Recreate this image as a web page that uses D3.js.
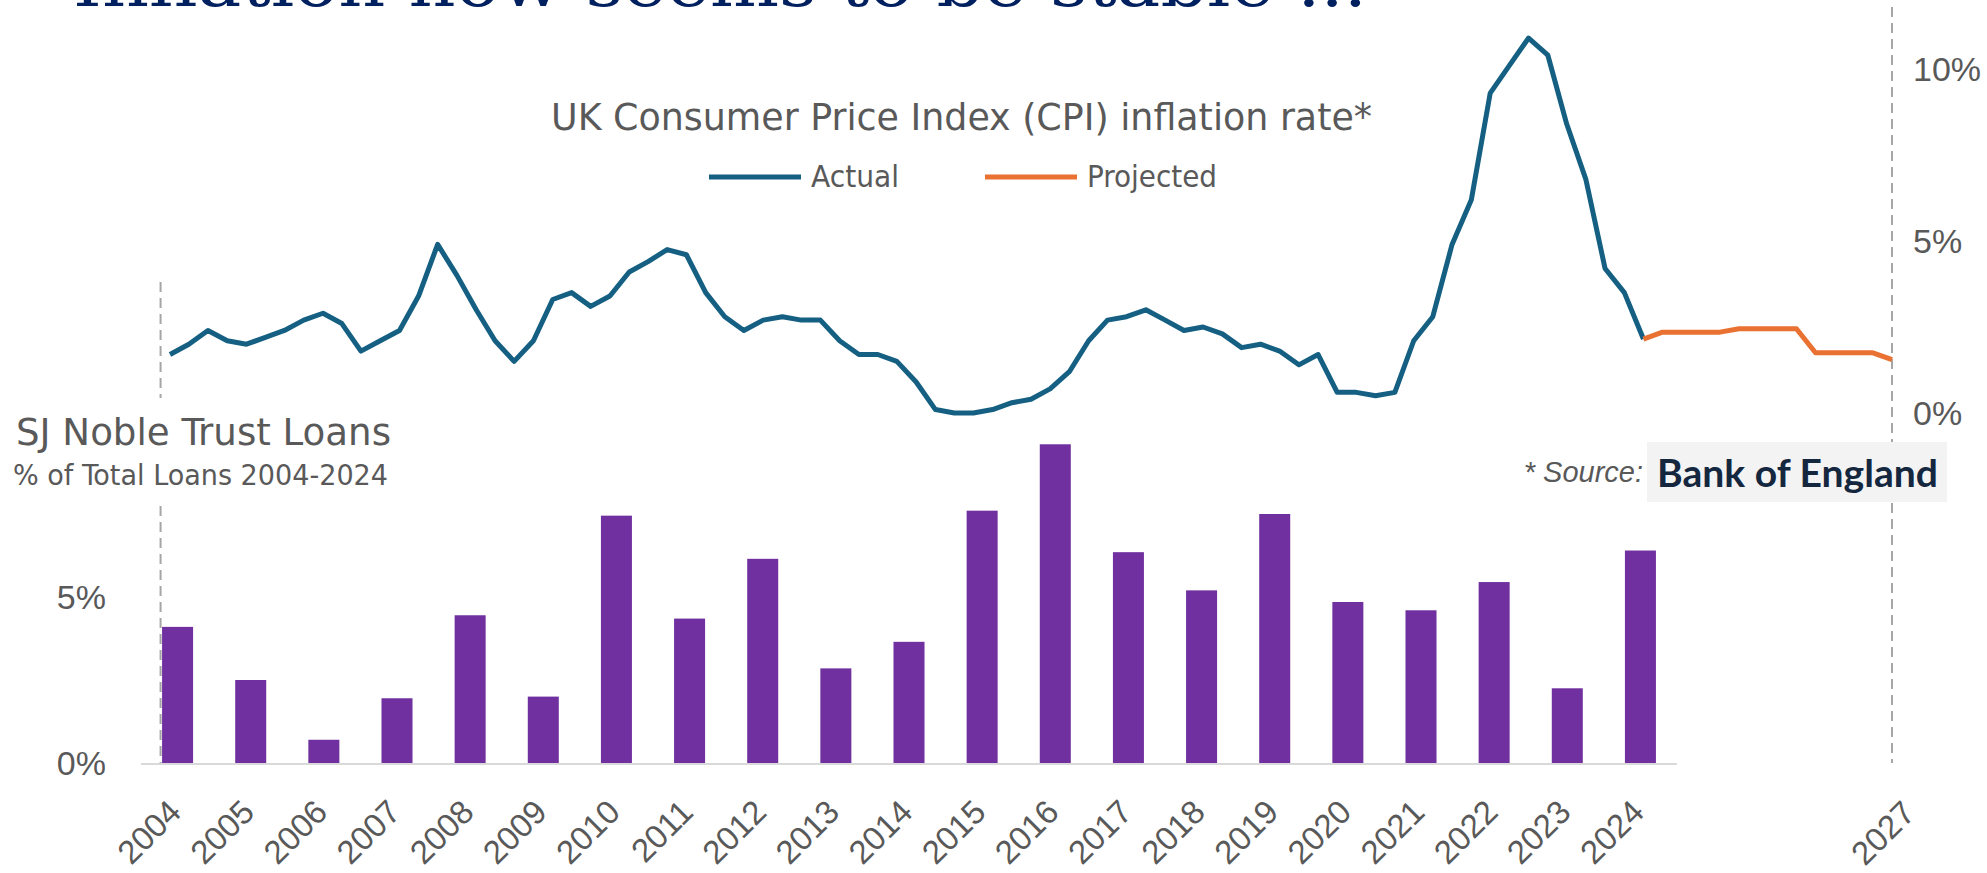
<!DOCTYPE html>
<html>
<head>
<meta charset="utf-8">
<script src="https://cdn.jsdelivr.net/npm/d3@7"></script>
<style>
 body{margin:0;background:#fff;}
 svg{display:block;}
</style>
</head>
<body>
<div id="chart"></div>
<script>
// loans per year (% of total loans 2004-2024)
const loanYears = ['2004','2005','2006','2007','2008','2009','2010','2011','2012','2013','2014',
                   '2015','2016','2017','2018','2019','2020','2021','2022','2023','2024'];
const loanShare = [4.1,2.5,0.7,1.95,4.45,2.0,7.45,4.35,6.15,2.85,3.65,
                   7.6,9.6,6.35,5.2,7.5,4.85,4.6,5.45,2.25,6.4];

// UK CPI, quarterly, starting 2005 Q1
const cpiStartYear = 2005;
const cpiActual = [1.7,2.0,2.4,2.1, 2.0,2.2,2.4,2.7, 2.9,2.6,1.8,2.1, 2.4,3.4,4.9,4.0,
                   3.0,2.1,1.5,2.1, 3.3,3.5,3.1,3.4, 4.1,4.4,4.75,4.6, 3.5,2.8,2.4,2.7,
                   2.8,2.7,2.7,2.1, 1.7,1.7,1.5,0.9, 0.1,0.0,0.0,0.1, 0.3,0.4,0.7,1.2,
                   2.1,2.7,2.8,3.0, 2.7,2.4,2.5,2.3, 1.9,2.0,1.8,1.4, 1.7,0.6,0.6,0.5,
                   0.6,2.1,2.8,4.9, 6.2,9.3,10.1,10.9, 10.4,8.4,6.8,4.2, 3.5,2.15];
// projection continues from the last actual quarter
const cpiProjected = [2.15,2.35,2.35,2.35,2.35,2.45,2.45,2.45,2.45,1.75,1.75,1.75,1.75,1.55];

const cpiTicks = [0,5,10];
const loanTicks = [0,5];
const lineEndLabel = '2027';

const legendItems = [
  {name:'Actual', color:'#156082'},
  {name:'Projected', color:'#E97132'}
];

const width = 1987, height = 873;
const grey = '#595959';
const narrow = '"Liberation Sans Narrow","DejaVu Sans Condensed","Roboto",sans-serif';
const plain = '"Liberation Sans",Arial,sans-serif';

const svg = d3.select('#chart').append('svg')
    .attr('width', width)
    .attr('height', height);

// quarter index -> date
const qDate = i => new Date(cpiStartYear + Math.floor(i/4), (i%4)*3, 1);
const nActual = cpiActual.length;
const actualData = cpiActual.map((v,i)=>({date:qDate(i), v:v}));
const projData = cpiProjected.map((v,i)=>({date:qDate(nActual-1+i), v:v}));
const lastDate = projData[projData.length-1].date;

// scales
const xLine = d3.scaleTime()
    .domain([actualData[0].date, lastDate])
    .range([170, 1892]);
const yLine = d3.scaleLinear()
    .domain([0,10])
    .range([413, 69]);

const xBar = d3.scaleBand()
    .domain(loanYears)
    .range([141, 1677])
    .paddingInner(0.576)
    .paddingOuter(0.288);
const yBar = d3.scaleLinear()
    .domain([0,10])
    .range([763, 431]);

// dashed vertical guides
const guides = svg.append('g').attr('class','guides');
guides.append('line')
    .attr('x1', xLine(d3.timeDay.offset(actualData[0].date,-45)))
    .attr('x2', xLine(d3.timeDay.offset(actualData[0].date,-45)))
    .attr('y1', 282)
    .attr('y2', yBar(0))
    .attr('stroke','#a6a6a6')
    .attr('stroke-width',2)
    .style('stroke-dasharray','10,6');

guides.append('line')
    .attr('x1', xLine(lastDate))
    .attr('x2', xLine(lastDate))
    .attr('y1', 7)
    .attr('y2', yBar(0))
    .attr('stroke','#a6a6a6')
    .attr('stroke-width',2)
    .style('stroke-dasharray','10,6');

// title (partly cut off at the top)
svg.append('text')
    .text('Inflation now seems to be stable ...')
    .attr('x', 73)
    .attr('y', 6)
    .attr('textLength', 1294)
    .attr('lengthAdjust','spacingAndGlyphs')
    .style('font-family','"DejaVu Serif",serif')
    .style('font-size','64px')
    .style('fill','#002060');

// ---- bar chart ----
const bars = svg.append('g').attr('class','bars');
bars.selectAll('rect')
    .data(loanYears)
    .join('rect')
    .attr('x', d=>xBar(d))
    .attr('width', xBar.bandwidth())
    .attr('y', (d,i)=>yBar(loanShare[i]))
    .attr('height', (d,i)=>yBar(0)-yBar(loanShare[i]))
    .attr('fill','#7030A0');

svg.append('line')
    .attr('x1', xBar.range()[0])
    .attr('x2', xBar.range()[1])
    .attr('y1', yBar(0)+1)
    .attr('y2', yBar(0)+1)
    .attr('stroke','#d9d9d9')
    .attr('stroke-width',2);

const xAxis = svg.append('g')
    .attr('transform', `translate(0,${yBar(0)})`)
    .call(d3.axisBottom(xBar).tickSize(0));
xAxis.select('.domain').remove();
xAxis.selectAll('text')
    .attr('x',0).attr('y',0).attr('dy',0)
    .attr('transform','translate(5.5,51) rotate(-45)')
    .style('text-anchor','end')
    .style('font-family',plain)
    .style('font-size','33px')
    .style('fill',grey);

const yAxisBar = svg.append('g')
    .attr('transform','translate(106,0)')
    .call(d3.axisLeft(yBar).tickValues(loanTicks).tickSize(0).tickFormat(d=>d+'%'));
yAxisBar.select('.domain').remove();
yAxisBar.selectAll('text')
    .attr('x',0)
    .attr('dy','0.35em')
    .style('font-family',plain)
    .style('font-size','34px')
    .style('fill',grey);

// ---- line chart ----
const line = d3.line()
    .x(d=>xLine(d.date))
    .y(d=>yLine(d.v));

svg.append('path')
    .datum(actualData)
    .attr('fill','none')
    .attr('stroke',legendItems[0].color)
    .attr('stroke-width',5)
    .attr('stroke-linejoin','round')
    .attr('d', line);

svg.append('path')
    .datum(projData)
    .attr('fill','none')
    .attr('stroke',legendItems[1].color)
    .attr('stroke-width',5)
    .attr('stroke-linejoin','round')
    .attr('d', line);

const yAxisLine = svg.append('g')
    .attr('transform','translate(1913,0)')
    .call(d3.axisRight(yLine).tickValues(cpiTicks).tickSize(0).tickFormat(d=>d+'%'));
yAxisLine.select('.domain').remove();
yAxisLine.selectAll('text')
    .attr('x',0)
    .attr('dy','0.35em')
    .style('font-family',plain)
    .style('font-size','34px')
    .style('fill',grey);

svg.append('text')
    .text(lineEndLabel)
    .attr('transform',`translate(${xLine(lastDate)+25},815) rotate(-45)`)
    .style('text-anchor','end')
    .style('font-family',plain)
    .style('font-size','33px')
    .style('fill',grey);

// chart title + legend
svg.append('text')
    .text('UK Consumer Price Index (CPI) inflation rate*')
    .attr('x',551)
    .attr('y',130)
    .attr('textLength',821)
    .attr('lengthAdjust','spacingAndGlyphs')
    .style('font-family',narrow)
    .style('font-size','38px')
    .style('fill',grey);

const legend = svg.append('g');
const legendX = [709, 985];
const legendW = [88, 130];
legendItems.forEach((item,i)=>{
  legend.append('line')
      .attr('x1',legendX[i]).attr('x2',legendX[i]+92)
      .attr('y1',177).attr('y2',177)
      .attr('stroke',item.color)
      .attr('stroke-width',5);
  legend.append('text')
      .text(item.name)
      .attr('x',legendX[i]+102)
      .attr('y',187)
      .attr('textLength',legendW[i])
      .attr('lengthAdjust','spacingAndGlyphs')
      .style('font-family',narrow)
      .style('font-size','30px')
      .style('fill',grey);
});

// bar chart titles (white box hides the guide line behind)
svg.append('rect')
    .attr('x',0).attr('y',398)
    .attr('width',400).attr('height',108)
    .attr('fill','#fff');

svg.append('text')
    .text('SJ Noble Trust Loans')
    .attr('x',16)
    .attr('y',445)
    .attr('textLength',375)
    .attr('lengthAdjust','spacingAndGlyphs')
    .style('font-family',narrow)
    .style('font-size','38px')
    .style('fill',grey);

svg.append('text')
    .text('% of Total Loans 2004-2024')
    .attr('x',13)
    .attr('y',485)
    .attr('textLength',375)
    .attr('lengthAdjust','spacingAndGlyphs')
    .style('font-family',narrow)
    .style('font-size','28px')
    .style('fill',grey);

// source
svg.append('text')
    .text('* Source:')
    .attr('x',1643)
    .attr('y',482)
    .style('text-anchor','end')
    .style('font-family',plain)
    .style('font-style','italic')
    .style('font-size','29px')
    .style('fill',grey);

svg.append('rect')
    .attr('x',1647).attr('y',442)
    .attr('width',300).attr('height',60)
    .attr('fill','#f3f3f3');

svg.append('text')
    .text('Bank of England')
    .attr('x',1657)
    .attr('y',487)
    .attr('textLength',281)
    .attr('lengthAdjust','spacingAndGlyphs')
    .style('font-family','Lato,Inter,sans-serif')
    .style('font-weight','700')
    .style('font-size','38px')
    .style('fill','#14273f');
</script>
</body>
</html>
